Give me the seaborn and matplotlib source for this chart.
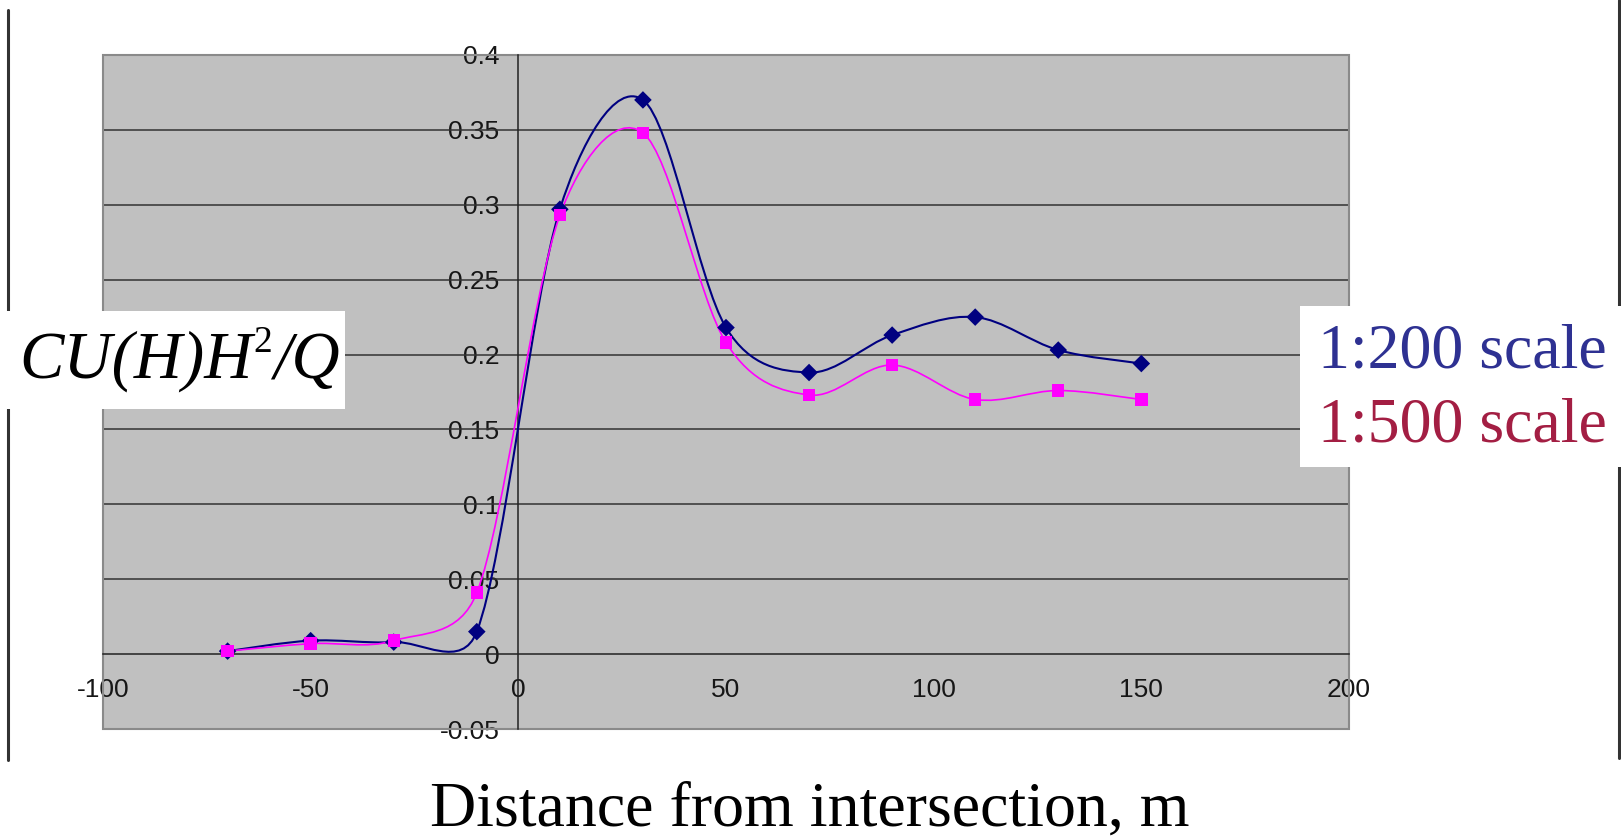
import numpy as np
import pandas as pd
import seaborn as sns
import matplotlib
matplotlib.use("Agg")
import matplotlib.pyplot as plt
from matplotlib.path import Path
from matplotlib.patches import PathPatch, Rectangle
from matplotlib.lines import Line2D

# ---------------- data ----------------
distance = [-70, -50, -30, -10, 10, 30, 50, 70, 90, 110, 130, 150]
scale_200 = [0.002, 0.009, 0.008, 0.015, 0.297, 0.370, 0.218, 0.188, 0.213, 0.225, 0.203, 0.194]
scale_500 = [0.002, 0.007, 0.009, 0.041, 0.293, 0.348, 0.208, 0.173, 0.193, 0.170, 0.176, 0.170]
series_names = ["1:200 scale", "1:500 scale"]
x_ticks = [-100, -50, 0, 50, 100, 150, 200]
x_tick_labels = ["-100", "-50", "0", "50", "100", "150", "200"]
y_ticks = [-0.05, 0, 0.05, 0.1, 0.15, 0.2, 0.25, 0.3, 0.35, 0.4]
y_tick_labels = ["-0.05", "0", "0.05", "0.1", "0.15", "0.2", "0.25", "0.3", "0.35", "0.4"]
y_label_parts = ["CU(H)H", "2", "/Q"]
x_label = "Distance from intersection, m"

series_colors = {"1:200 scale": "#000080", "1:500 scale": "#FF00FF"}
series_markers = {"1:200 scale": "D", "1:500 scale": "s"}
legend_colors = {"1:200 scale": "#2E3192", "1:500 scale": "#A31E43"}

df = pd.DataFrame({
    "distance": distance * 2,
    "value": scale_200 + scale_500,
    "series": [series_names[0]] * len(distance) + [series_names[1]] * len(distance),
})

# ---------------- style ----------------
sns.set_style("white")
plt.rcParams["font.family"] = ["Liberation Sans", "DejaVu Sans"]
SERIF = ["Liberation Serif", "DejaVu Serif"]

W, H = 1621, 838
fig = plt.figure(figsize=(W / 100, H / 100), dpi=100)
fig.patch.set_facecolor("white")

left, right, top, bottom = 103, 1349, 55, 729
ax = fig.add_axes([left / W, 1 - bottom / H, (right - left) / W, (bottom - top) / H])
ax.set_facecolor("#C0C0C0")
ax.set_xlim(-100, 200)
ax.set_ylim(-0.05, 0.4)

# horizontal gridlines (interior)
for yv in y_ticks:
    if yv not in (0, -0.05, 0.4):
        ax.axhline(yv, color="#333333", lw=1.1, zorder=1)

# axes crossing at zero
ax.spines["left"].set_position(("data", 0))
ax.spines["bottom"].set_position(("data", 0))
for s in ("left", "bottom"):
    ax.spines[s].set_color("#222222")
    ax.spines[s].set_linewidth(1.1)
    ax.spines[s].set_zorder(2)
for s in ("top", "right"):
    ax.spines[s].set_visible(False)
ax.add_patch(Rectangle((0, 0), 1, 1, transform=ax.transAxes, fill=False,
                       edgecolor="#8a8a8a", lw=1.5, zorder=2, clip_on=False))

ax.set_xticks(x_ticks)
ax.set_xticklabels(x_tick_labels)
ax.set_yticks(y_ticks)
ax.set_yticklabels(y_tick_labels)
ax.tick_params(axis="both", direction="out", length=5, width=1.0, color="#333333",
               labelsize=19, labelcolor="#161616")
ax.tick_params(axis="y", pad=8.5)
ax.tick_params(axis="x", pad=12)
ax.grid(False)


# Excel-style smoothed line: Bezier through the data points, built in screen space
def smooth_path(xs, ys):
    pts = ax.transData.transform(np.column_stack([xs, ys]).astype(float))
    n = len(pts)
    verts = [pts[0]]
    codes = [Path.MOVETO]
    for i in range(n - 1):
        p0 = pts[i - 1] if i > 0 else pts[i]
        p1 = pts[i]
        p2 = pts[i + 1]
        p3 = pts[i + 2] if i + 2 < n else pts[i + 1]
        d02 = np.hypot(*(p2 - p0))
        d12 = np.hypot(*(p2 - p1))
        d13 = np.hypot(*(p3 - p1))
        f1 = 1 / 6 if d02 / 6 < d12 / 2 else (d12 / (2 * d02) if d02 > 0 else 0)
        f2 = 1 / 6 if d13 / 6 < d12 / 2 else (d12 / (2 * d13) if d13 > 0 else 0)
        verts += [p1 + (p2 - p0) * f1, p2 - (p3 - p1) * f2, p2]
        codes += [Path.CURVE4] * 3
    verts = ax.transData.inverted().transform(np.array(verts))
    return Path(verts, codes)


lw = {"1:200 scale": 1.5, "1:500 scale": 1.2}
for name in series_names:
    sub = df[df["series"] == name]
    ax.add_patch(PathPatch(smooth_path(sub["distance"].values, sub["value"].values), fill=False,
                           edgecolor=series_colors[name], lw=lw[name], zorder=3))

sns.scatterplot(data=df, x="distance", y="value", hue="series", style="series",
                palette=series_colors, markers=series_markers, hue_order=series_names,
                style_order=series_names, s=80, linewidth=0, legend=False, ax=ax, zorder=4)
ax.set_xlabel("")
ax.set_ylabel("")

# ---------------- decorations ----------------
fig.add_artist(Line2D([8 / W, 8 / W], [1 - 10 / H, 1 - 760 / H], color="#333333", lw=2.2,
                      transform=fig.transFigure, zorder=3))
fig.add_artist(Line2D([1619 / W, 1619 / W], [1.0, 1 - 758 / H], color="#333333", lw=2.2,
                      transform=fig.transFigure, zorder=3))

# y label box
fig.add_artist(Rectangle((0, 1 - 409 / H), 345 / W, 98 / H, transform=fig.transFigure,
                         facecolor="white", edgecolor="none", zorder=5))
renderer = fig.canvas.get_renderer()
t1 = fig.text(19 / W, 1 - 378 / H, y_label_parts[0], ha="left", va="baseline", fontsize=48,
              family=SERIF, style="italic", color="black", zorder=6)
x1 = t1.get_window_extent(renderer).x1
t2 = fig.text((x1 + 1) / W, 1 - 352 / H, y_label_parts[1], ha="left", va="baseline", fontsize=27,
              family=SERIF, color="black", zorder=6)
x2 = t2.get_window_extent(renderer).x1
fig.text((x2 + 1) / W, 1 - 378 / H, y_label_parts[2], ha="left", va="baseline", fontsize=48,
         family=SERIF, style="italic", color="black", zorder=6)

# legend box
fig.add_artist(Rectangle((1300 / W, 1 - 467 / H), 321 / W, 161 / H, transform=fig.transFigure,
                         facecolor="white", edgecolor="none", zorder=5))
fig.text(1318 / W, 1 - 367 / H, series_names[0], ha="left", va="baseline", fontsize=46,
         family=SERIF, color=legend_colors[series_names[0]], zorder=6)
fig.text(1318 / W, 1 - 441 / H, series_names[1], ha="left", va="baseline", fontsize=46,
         family=SERIF, color=legend_colors[series_names[1]], zorder=6)

# x label
fig.text(810 / W, 1 - 826 / H, x_label, ha="center", va="baseline", fontsize=46,
         family=SERIF, color="black", zorder=6)

fig.savefig("out.png", dpi=100, facecolor="white")
